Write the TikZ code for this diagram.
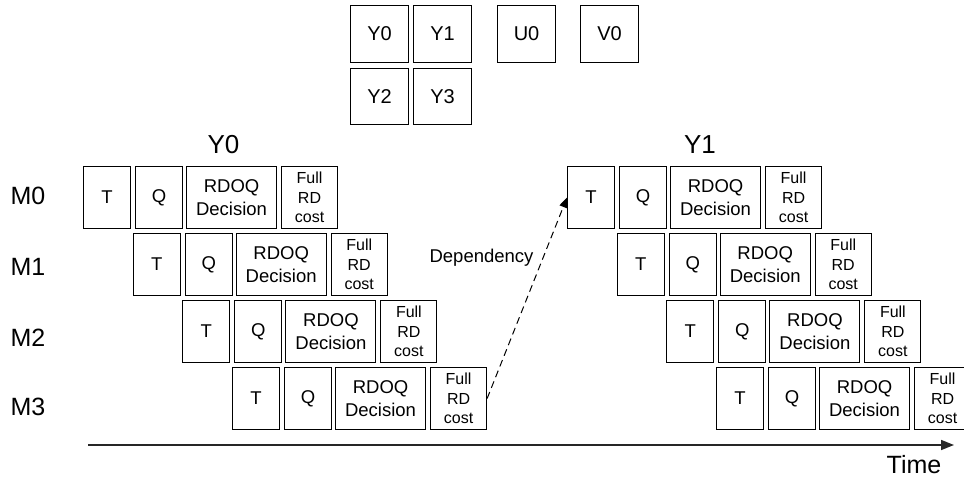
\documentclass[tikz,border=0pt]{standalone}
\usepackage{fontspec}
\setmainfont{Liberation Sans}
\usetikzlibrary{arrows.meta}
\begin{document}
\begin{tikzpicture}[x=1pt,y=-1pt,
  box/.style={draw=black,line width=1.1pt,inner sep=0pt,anchor=north west,align=center,minimum height=62pt},
  boxtxt/.style={font=\fontsize{18.5}{22.5}\selectfont},
  fulltxt/.style={font=\fontsize{16}{19.5}\selectfont},
  topbox/.style={draw=black,line width=1.1pt,inner sep=0pt,anchor=north west,minimum width=58pt,minimum height=57pt,font=\fontsize{20}{24}\selectfont},
  rowlbl/.style={font=\fontsize{25}{30}\selectfont},
  grplbl/.style={font=\fontsize{26}{31}\selectfont},
  deptxt/.style={font=\fontsize{18.5}{22}\selectfont},
  timetxt/.style={font=\fontsize{25}{30}\selectfont,inner sep=0pt},
  deparrow/.style={line width=1pt,dash pattern=on 7pt off 4.5pt,-{Triangle[length=10pt,width=8pt]}},
  timearrow/.style={line width=1.6pt,draw=black!85,-{Triangle[length=13pt,width=10pt]}}
]
\useasboundingbox (0,0) rectangle (964,478);
% top boxes
\node[topbox] (tY0) at (350,5) {Y0};
\node[topbox] (tY1) at (413,5) {Y1};
\node[topbox] (tU0) at (497,5) {U0};
\node[topbox] (tV0) at (580,5) {V0};
\node[topbox,minimum height=56pt] (tY2) at (350,68) {Y2};
\node[topbox,minimum height=56pt] (tY3) at (413,68) {Y3};
% group labels
\node[grplbl] (gY0) at (223.5,145) {Y0};
\node[grplbl] (gY1) at (700,145) {Y1};
% row labels
\node[rowlbl] (m0) at (28,196) {M0};
\node[rowlbl] (m1) at (28,267) {M1};
\node[rowlbl] (m2) at (28,338) {M2};
\node[rowlbl] (m3) at (28,407) {M3};
% pipeline rows
\foreach \g/\gx in {L/0,R/484}{
  \foreach \r in {0,1,2,3}{
    \pgfmathsetmacro\xo{83+49.67*\r+\gx}
    \pgfmathsetmacro\yo{166+67*\r}
    \node[box,boxtxt,minimum width=47pt] (\g\r T) at (\xo,\yo) {T};
    \node[box,boxtxt,minimum width=47pt] (\g\r Q) at (\xo+52,\yo) {Q};
    \node[box,boxtxt,minimum width=90pt] (\g\r R) at (\xo+103,\yo) {RDOQ\\Decision};
    \node[box,fulltxt,minimum width=56pt] (\g\r F) at (\xo+198,\yo) {Full\\RD\\cost};
  }
}
% dependency
\draw[deparrow] (L3F.east) -- (R0T.west);
\node[deptxt,anchor=east] (dep) at (537,258) {Dependency};
% time axis
\coordinate (ts) at (88,445);
\coordinate (te) at (954,445);
\draw[timearrow] (ts) -- (te);
\node[timetxt] (time) at (914,465) {Time};
\end{tikzpicture}
\end{document}
